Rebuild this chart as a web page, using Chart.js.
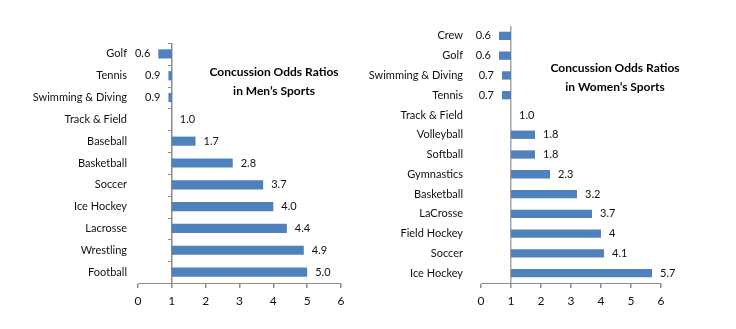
<!DOCTYPE html>
<html>
<head>
<meta charset="utf-8">
<script src="https://cdn.jsdelivr.net/npm/chart.js@4"></script>
<style>
  html, body { margin: 0; padding: 0; background: #fff; }
  #wrap { position: relative; width: 736px; height: 329px; overflow: hidden; }
  .box { position: absolute; top: 0; }
  .title {
    position: absolute; width: 170px; text-align: center;
    font: bold 12px Lato, sans-serif; line-height: 19px; color: #000;
  }
</style>
</head>
<body>
<div id="wrap">
  <div class="box" style="left:0"><canvas id="menChart" width="360" height="329"></canvas></div>
  <div class="box" style="left:360px"><canvas id="womenChart" width="376" height="329"></canvas></div>
  <div class="title" style="left:189px; top:62px">Concussion Odds Ratios<br>in Men’s Sports</div>
  <div class="title" style="left:530px; top:58px">Concussion Odds Ratios<br>in Women’s Sports</div>
</div>
<script>
// data
const menSports = ['Golf', 'Tennis', 'Swimming & Diving', 'Track & Field', 'Baseball', 'Basketball',
                   'Soccer', 'Ice Hockey', 'Lacrosse', 'Wrestling', 'Football'];
const menOdds = [0.6, 0.9, 0.9, 1.0, 1.7, 2.8, 3.7, 4.0, 4.4, 4.9, 5.0];
const menLabels = ['0.6', '0.9', '0.9', '1.0', '1.7', '2.8', '3.7', '4.0', '4.4', '4.9', '5.0'];

const womenSports = ['Crew', 'Golf', 'Swimming & Diving', 'Tennis', 'Track & Field', 'Volleyball', 'Softball',
                     'Gymnastics', 'Basketball', 'LaCrosse', 'Field Hockey', 'Soccer', 'Ice Hockey'];
const womenOdds = [0.6, 0.6, 0.7, 0.7, 1.0, 1.8, 1.8, 2.3, 3.2, 3.7, 4, 4.1, 5.7];
const womenLabels = ['0.6', '0.6', '0.7', '0.7', '1.0', '1.8', '1.8', '2.3', '3.2', '3.7', '4', '4.1', '5.7'];

const xTicks = [0, 1, 2, 3, 4, 5, 6];
const baseline = 1; // odds ratio of 1 = no difference

const barBlue = '#4f81bd';
const axisGray = '#8c8c8c';
const textColor = '#111';
const fontFamily = 'Lato, sans-serif';

// value text beside each bar end
const valueLabels = {
  id: 'valueLabels',
  afterDatasetsDraw(chart, args, opts) {
    const ctx = chart.ctx;
    const xs = chart.scales.x;
    const meta = chart.getDatasetMeta(0);
    ctx.save();
    ctx.font = '11px ' + fontFamily;
    ctx.fillStyle = textColor;
    ctx.textBaseline = 'middle';
    meta.data.forEach((bar, i) => {
      const v = opts.values[i];
      const px = xs.getPixelForValue(v);
      if (v >= baseline) {
        ctx.textAlign = 'left';
        ctx.fillText(opts.texts[i], px + 8, bar.y);
      } else {
        ctx.textAlign = 'right';
        ctx.fillText(opts.texts[i], px - 8, bar.y);
      }
    });
    ctx.restore();
  }
};

// little category ticks on the baseline (only the men's chart has them)
const catTicks = {
  id: 'catTicks',
  afterDraw(chart, args, opts) {
    if (!opts.show) return;
    const ctx = chart.ctx;
    const x = chart.scales.x.getPixelForValue(baseline);
    const ys = chart.scales.y;
    ctx.save();
    ctx.strokeStyle = axisGray;
    ctx.lineWidth = 1;
    for (let i = 0; i <= ys.ticks.length; i++) {
      const y = Math.round(ys.getPixelForValue(i - 0.5)) + 0.5;
      ctx.beginPath();
      ctx.moveTo(x - 4, y);
      ctx.lineTo(x, y);
      ctx.stroke();
    }
    ctx.restore();
  }
};

function makeChart(id, sports, odds, texts, o) {
  return new Chart(document.getElementById(id), {
    type: 'bar',
    data: {
      labels: sports,
      datasets: [{
        data: odds.map(v => [baseline, v]),
        backgroundColor: barBlue,
        borderWidth: 0,
        barPercentage: o.barPct,
        categoryPercentage: 1
      }]
    },
    options: {
      indexAxis: 'y',
      responsive: false,
      animation: false,
      layout: { padding: { top: o.top, right: o.right, left: 0, bottom: 0 } },
      plugins: {
        legend: { display: false },
        tooltip: { enabled: false },
        valueLabels: { values: odds, texts: texts },
        catTicks: { show: o.catTicks }
      },
      scales: {
        x: {
          min: 0, max: 6,
          afterBuildTicks: s => { s.ticks = xTicks.map(v => ({ value: v })); },
          afterFit: s => { s.height = 46; },
          border: { display: true, color: axisGray, width: 1 },
          grid: {
            drawTicks: true,
            tickLength: 5,
            tickColor: axisGray,
            color: c => (c.tick && c.tick.value === baseline) ? o.baseColor : 'rgba(0,0,0,0)',
            lineWidth: 1.5
          },
          ticks: { color: textColor, padding: 6, font: { family: fontFamily, size: 12 } }
        },
        y: {
          afterFit: s => { s.width = o.axisWidth; },
          border: { display: false },
          grid: { display: false, drawTicks: false },
          ticks: { color: textColor, padding: o.labelPad, font: { family: fontFamily, size: 11 } }
        }
      }
    },
    plugins: [valueLabels, catTicks]
  });
}

makeChart('menChart', menSports, menOdds, menLabels,
  { top: 43, right: 19, axisWidth: 138, labelPad: 11, barPct: 0.42, catTicks: true, baseColor: axisGray });
makeChart('womenChart', womenSports, womenOdds, womenLabels,
  { top: 26, right: 75, axisWidth: 121, labelPad: 18, barPct: 0.42, catTicks: false, baseColor: '#a6a6a6' });
</script>
</body>
</html>
